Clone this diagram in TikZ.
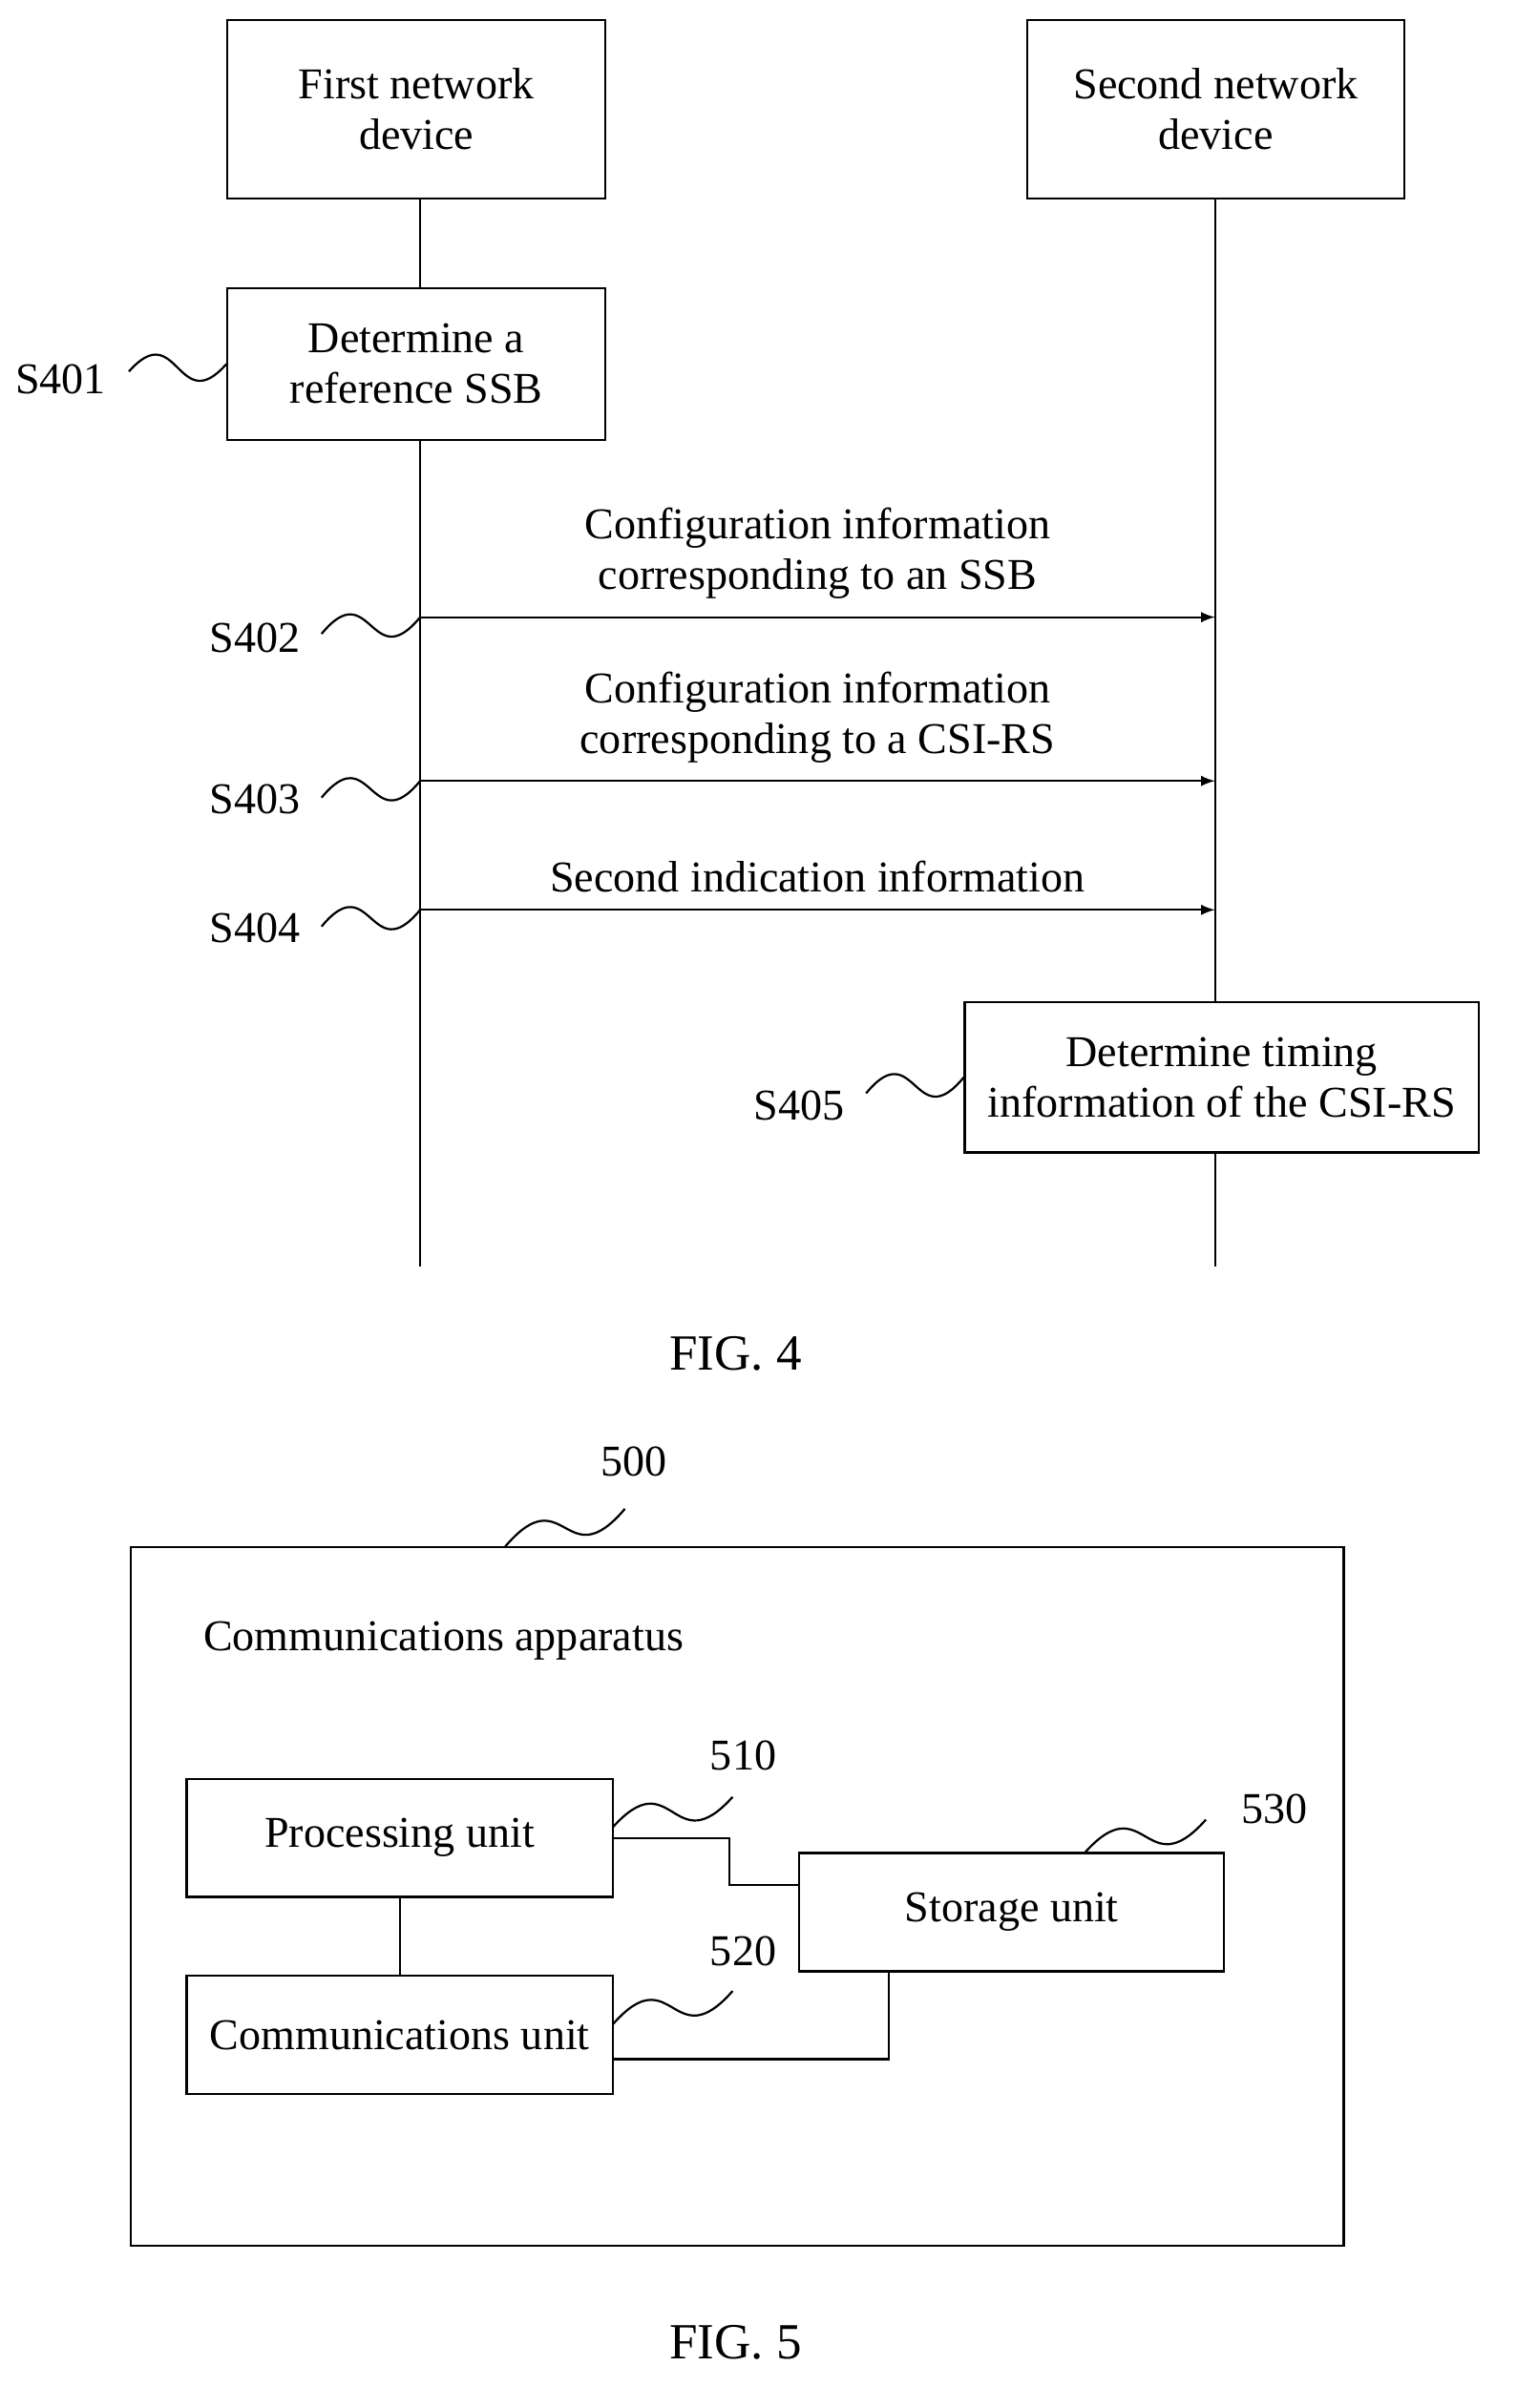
\documentclass[tikz,border=0pt]{standalone}
\usepackage{fontspec}
\setmainfont{Liberation Serif}
\usetikzlibrary{calc}

\begin{document}
\begin{tikzpicture}
    [ x = .02cm, y = -.02cm
    , every node/.style =
      { font=\fontsize{16.5}{19}\selectfont, align=center }
    , box/.style =
      { draw, line width=.8pt, inner sep=0pt }
    , line/.style =
      { line width=.8pt }
    , msg/.style =
      { line width=.8pt, -latex }
    , squig/.style =
      { line width=.8pt }
    ]
    \useasboundingbox (0,0) rectangle (1000,1588);
    \newcommand\wave[3]{\draw [squig] (#1) .. controls ($(#1)!.5!(#2)+(0,-#3)$) and ($(#1)!.5!(#2)+(0,#3)$) .. (#2);}

    % FIG. 4
    \node [box] (first) at (274.5,72) [minimum width=4.98cm, minimum height=2.36cm] {First network\\device};
    \node [box] (second) at (801.5,72) [minimum width=4.98cm, minimum height=2.36cm] {Second network\\device};
    \node [box] (s401) at (274.5,240) [minimum width=4.98cm, minimum height=2cm] {Determine a\\reference SSB};
    \node [box] (s405) at (805.5,710.5) [minimum width=6.78cm, minimum height=1.98cm] {Determine timing\\information of the CSI-RS};
    \coordinate (firstend) at (277,835);
    \coordinate (secondend) at (801,835);
    \draw [line] (first.south -| firstend) -- (s401.north -| firstend);
    \draw [line] (s401.south -| firstend) -- (firstend);
    \draw [line] (second.south -| secondend) -- (s405.north -| secondend);
    \draw [line] (s405.south -| secondend) -- (secondend);

    \coordinate (a2) at (277,407); \coordinate (b2) at (801,407);
    \coordinate (a3) at (277,515); \coordinate (b3) at (801,515);
    \coordinate (a4) at (277,600); \coordinate (b4) at (801,600);
    \draw [msg] (a2) -- (b2) node [midway, above=3pt] {Configuration information\\corresponding to an SSB};
    \draw [msg] (a3) -- (b3) node [midway, above=3pt] {Configuration information\\corresponding to a CSI-RS};
    \draw [msg] (a4) -- (b4) node [midway, above=3pt] {Second indication information};

    \node (l401) at (40,250) {S401};
    \node (l402) at (168,421) {S402};
    \node (l403) at (168,527) {S403};
    \node (l404) at (168,612) {S404};
    \node (l405) at (527,729) {S405};
    \coordinate (w401) at (85,245); \wave{w401}{s401.west}{34}
    \coordinate (w402) at (212,418); \wave{w402}{a2}{34}
    \coordinate (w403) at (212,526); \wave{w403}{a3}{34}
    \coordinate (w404) at (212,611); \wave{w404}{a4}{34}
    \coordinate (w405) at (571,721); \wave{w405}{s405.west}{34}
    \node (fig4) at (485,893) {\fontsize{19}{22}\selectfont FIG. 4};

    % FIG. 5
    \node [box] (app) at (486,1250.5) [minimum width=16cm, minimum height=9.22cm] {};
    \node [anchor=west] (apptext) at (128,1082) {Communications apparatus};
    \node [box] (proc) at (263.5,1212) [minimum width=5.62cm, minimum height=1.56cm] {Processing unit};
    \node [box] (comm) at (263.5,1342) [minimum width=5.62cm, minimum height=1.56cm] {Communications unit};
    \node [box] (stor) at (667,1261) [minimum width=5.6cm, minimum height=1.56cm] {Storage unit};
    \draw [line] (proc) -- (comm);
    \draw [line] (proc.east) -- (481,1212) -- (481,1243) -- (stor.west |- 0,1243);
    \draw [line] (stor.south -| 586,0) -- (586,1358) -- (comm.east |- 0,1358);

    \node (l500) at (418,964) {500};
    \node (l510) at (490,1158) {510};
    \node (l520) at (490,1287) {520};
    \node (l530) at (840,1193) {530};
    \coordinate (v500a) at (333,1020); \coordinate (v500b) at (412,995); \wave{v500a}{v500b}{34}
    \coordinate (v510a) at (404,1205); \coordinate (v510b) at (483,1185); \wave{v510a}{v510b}{34}
    \coordinate (v520a) at (404,1335); \coordinate (v520b) at (483,1313); \wave{v520a}{v520b}{34}
    \coordinate (v530a) at (715,1222); \coordinate (v530b) at (795,1200); \wave{v530a}{v530b}{34}
    \node (fig5) at (485,1545) {\fontsize{19}{22}\selectfont FIG. 5};
\end{tikzpicture}
\end{document}
